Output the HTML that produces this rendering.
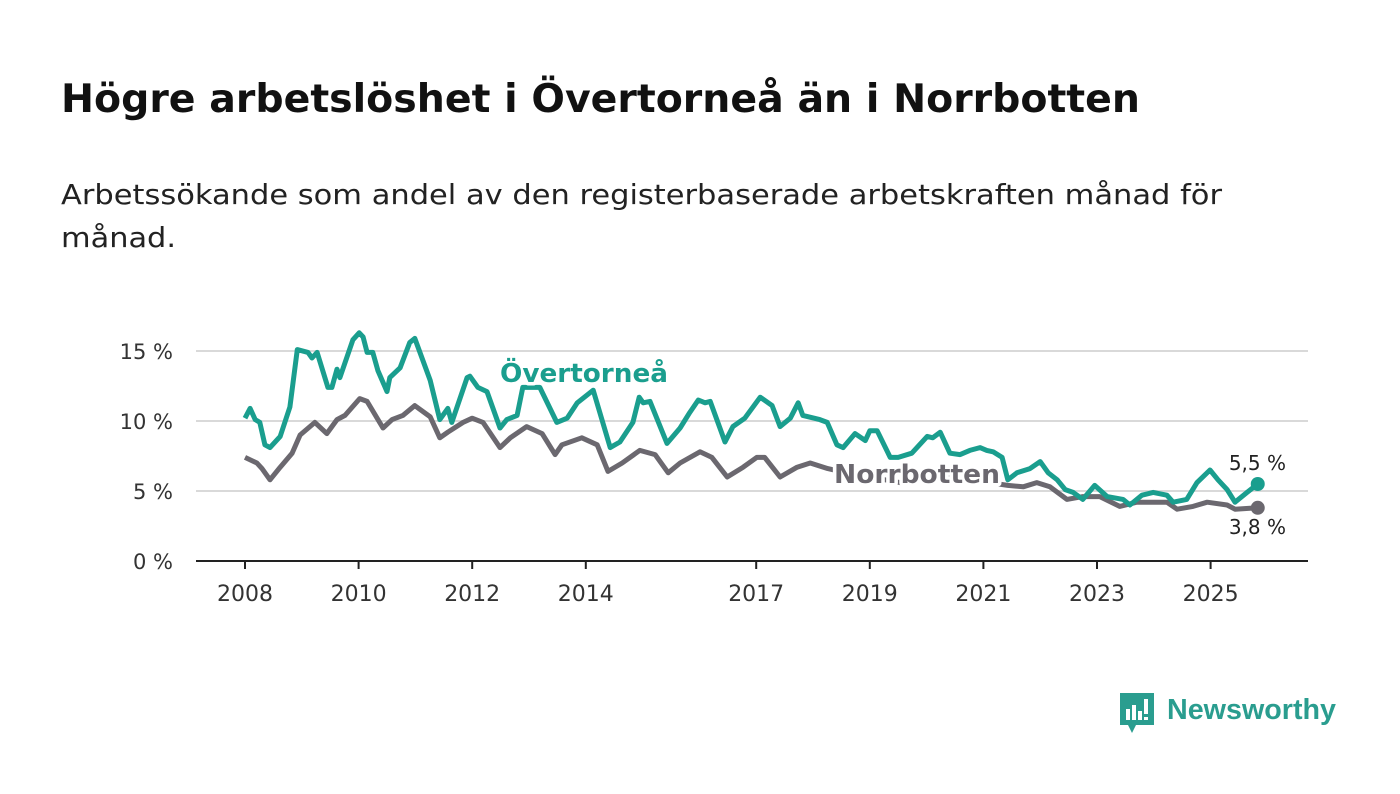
<!DOCTYPE html>
<html><head><meta charset="utf-8"><style>
body{margin:0;background:#fff;width:1400px;height:794px;overflow:hidden;font-family:"Liberation Sans",sans-serif}
</style></head><body>
<svg width="1400" height="794" style="position:absolute;left:0;top:0">
<text x="61" y="112" font-size="39" font-weight="bold" font-family="DejaVu Sans, Liberation Sans, sans-serif" fill="#111" textLength="1079" lengthAdjust="spacingAndGlyphs">Högre arbetslöshet i Övertorneå än i Norrbotten</text>
<text x="61" y="204" font-size="28" font-family="DejaVu Sans, Liberation Sans, sans-serif" fill="#222" textLength="1161" lengthAdjust="spacingAndGlyphs">Arbetssökande som andel av den registerbaserade arbetskraften månad för</text>
<text x="61" y="247" font-size="28" font-family="DejaVu Sans, Liberation Sans, sans-serif" fill="#222" textLength="115" lengthAdjust="spacingAndGlyphs">månad.</text>
<g id="grid"></g><g id="xaxis"></g><g id="lines"></g><g id="labels"></g>
<g>
<path d="M1120 693 h34 v32 h-18 l-4 8 l-4 -8 h-8 z" fill="#2a9d8f"/>
<rect x="1126" y="709" width="4" height="11" fill="#fff"/><rect x="1132" y="705" width="4" height="15" fill="#fff"/><rect x="1138" y="711" width="4" height="9" fill="#fff"/><rect x="1144" y="699" width="4" height="15" fill="#fff"/><rect x="1144" y="717" width="4" height="3" fill="#fff"/>
<text x="1167" y="719" font-size="29" font-weight="bold" fill="#2a9d8f" textLength="169" lengthAdjust="spacingAndGlyphs">Newsworthy</text>
</g>
</svg>
<script>
const yTicks=[0,5,10,15];
const yTickLabels=["0 %","5 %","10 %","15 %"];
const xTicks=[2008,2010,2012,2014,2017,2019,2021,2023,2025];
const tealDates=[2008.00,2008.09,2008.18,2008.26,2008.35,2008.44,2008.62,2008.79,2008.92,2009.11,2009.18,2009.27,2009.46,2009.53,2009.62,2009.67,2009.90,2010.01,2010.08,2010.15,2010.25,2010.34,2010.50,2010.55,2010.73,2010.90,2010.99,2011.26,2011.43,2011.57,2011.64,2011.91,2011.96,2012.10,2012.26,2012.49,2012.61,2012.79,2012.89,2013.19,2013.49,2013.67,2013.85,2014.13,2014.43,2014.60,2014.83,2014.94,2015.01,2015.13,2015.43,2015.66,2015.83,2015.98,2016.10,2016.19,2016.45,2016.59,2016.80,2017.07,2017.28,2017.42,2017.60,2017.74,2017.82,2018.12,2018.25,2018.42,2018.53,2018.74,2018.92,2019.00,2019.13,2019.36,2019.50,2019.74,2020.01,2020.11,2020.24,2020.41,2020.59,2020.76,2020.94,2021.06,2021.17,2021.33,2021.43,2021.59,2021.82,2022.00,2022.14,2022.30,2022.44,2022.58,2022.75,2022.96,2023.18,2023.46,2023.58,2023.79,2023.99,2024.23,2024.34,2024.58,2024.76,2024.99,2025.13,2025.29,2025.43,2025.64,2025.83];
const tealValues=[10.2,10.9,10.1,9.9,8.3,8.1,8.9,11.0,15.1,14.9,14.5,14.9,12.4,12.4,13.7,13.1,15.8,16.3,16.0,14.9,14.9,13.6,12.1,13.1,13.8,15.6,15.9,12.9,10.1,10.9,9.9,13.1,13.2,12.4,12.1,9.5,10.1,10.4,12.4,12.4,9.9,10.2,11.3,12.2,8.1,8.5,9.9,11.7,11.3,11.4,8.4,9.5,10.6,11.5,11.3,11.4,8.5,9.6,10.2,11.7,11.1,9.6,10.2,11.3,10.4,10.1,9.9,8.3,8.1,9.1,8.6,9.3,9.3,7.4,7.4,7.7,8.9,8.8,9.2,7.7,7.6,7.9,8.1,7.9,7.8,7.4,5.8,6.3,6.6,7.1,6.3,5.8,5.1,4.9,4.4,5.4,4.6,4.4,4.0,4.7,4.9,4.7,4.2,4.4,5.6,6.5,5.8,5.1,4.2,4.9,5.5];
const grayDates=[2008.00,2008.21,2008.30,2008.44,2008.62,2008.83,2008.97,2009.23,2009.44,2009.62,2009.76,2010.02,2010.15,2010.43,2010.59,2010.78,2010.99,2011.26,2011.43,2011.57,2011.84,2012.00,2012.19,2012.49,2012.67,2012.96,2013.23,2013.46,2013.58,2013.93,2014.20,2014.39,2014.64,2014.95,2015.22,2015.45,2015.66,2016.01,2016.22,2016.49,2016.77,2017.01,2017.15,2017.42,2017.72,2017.95,2018.26,2018.48,2019.00,2019.53,2020.24,2020.94,2021.43,2021.70,2021.94,2022.17,2022.47,2022.75,2023.05,2023.40,2023.70,2024.23,2024.41,2024.69,2024.94,2025.29,2025.43,2025.83];
const grayValues=[7.4,7.0,6.6,5.8,6.7,7.7,9.0,9.9,9.1,10.1,10.4,11.6,11.4,9.5,10.1,10.4,11.1,10.3,8.8,9.2,9.9,10.2,9.9,8.1,8.8,9.6,9.1,7.6,8.3,8.8,8.3,6.4,7.0,7.9,7.6,6.3,7.0,7.8,7.4,6.0,6.7,7.4,7.4,6.0,6.7,7.0,6.6,6.4,6.0,5.6,6.0,5.7,5.4,5.3,5.6,5.3,4.4,4.6,4.6,3.9,4.2,4.2,3.7,3.9,4.2,4.0,3.7,3.8];
const NS="http://www.w3.org/2000/svg";
const X=d=>245+(d-2008)*56.8;
const Y=v=>561-v*14;
const F='"DejaVu Sans","Liberation Sans",sans-serif';
function mk(tag,attrs,parent,text){const e=document.createElementNS(NS,tag);for(const k in attrs)e.setAttribute(k,attrs[k]);if(text!==undefined)e.textContent=text;document.getElementById(parent).appendChild(e);return e;}
yTicks.forEach((t,i)=>{
  const l=mk('line',{x1:196,x2:1308,y1:Y(t),y2:Y(t),stroke:t===0?'#222':'#d9d9d9','stroke-width':2},'grid');
  
  
  const tx=mk('text',{x:173,y:Y(t)+8,'font-size':21,'font-family':F,fill:'#333','text-anchor':'end'},'grid',yTickLabels[i]);
  
  
});
xTicks.forEach(t=>{
  const l=mk('line',{x1:X(t),x2:X(t),y1:561,y2:569,stroke:'#222','stroke-width':2},'xaxis');
  
  
  const tx=mk('text',{x:X(t),y:601,'font-size':22,'font-family':F,fill:'#333','text-anchor':'middle'},'xaxis',String(t));
  
  
});
function pts(ds,vs){return ds.map((d,i)=>X(d).toFixed(1)+','+Y(vs[i]).toFixed(1)).join(' ');}
const g=mk('polyline',{points:pts(grayDates,grayValues),fill:'none',stroke:'#6b686f','stroke-width':5,'stroke-linejoin':'round'},'lines');


const t=mk('polyline',{points:pts(tealDates,tealValues),fill:'none',stroke:'#1a9e8e','stroke-width':5,'stroke-linejoin':'round'},'lines');


const gl=grayDates.length-1, tl=tealDates.length-1;
const gd=mk('circle',{cx:X(grayDates[gl]),cy:Y(grayValues[gl]),r:7,fill:'#6b686f'},'lines');


const td=mk('circle',{cx:X(tealDates[tl]),cy:Y(tealValues[tl]),r:7,fill:'#1a9e8e'},'lines');


const a=mk('text',{x:1286,y:470,'font-size':20,'font-family':F,fill:'#222','text-anchor':'end'},'labels',String(tealValues[tl]).replace('.',',')+' %');


const b=mk('text',{x:1286,y:534,'font-size':20,'font-family':F,fill:'#222','text-anchor':'end'},'labels',String(grayValues[gl]).replace('.',',')+' %');


const s1=mk('text',{x:500,y:382,'font-size':26,'font-weight':'bold','font-family':F,fill:'#1a9e8e',stroke:'#fff','stroke-width':7,'paint-order':'stroke','stroke-linejoin':'round',textLength:168,lengthAdjust:'spacingAndGlyphs'},'labels','Övertorneå');


const s2=mk('text',{x:834,y:483,'font-size':26,'font-weight':'bold','font-family':F,fill:'#6b686f',stroke:'#fff','stroke-width':7,'paint-order':'stroke','stroke-linejoin':'round',textLength:166,lengthAdjust:'spacingAndGlyphs'},'labels','Norrbotten');


</script>
</body></html>
